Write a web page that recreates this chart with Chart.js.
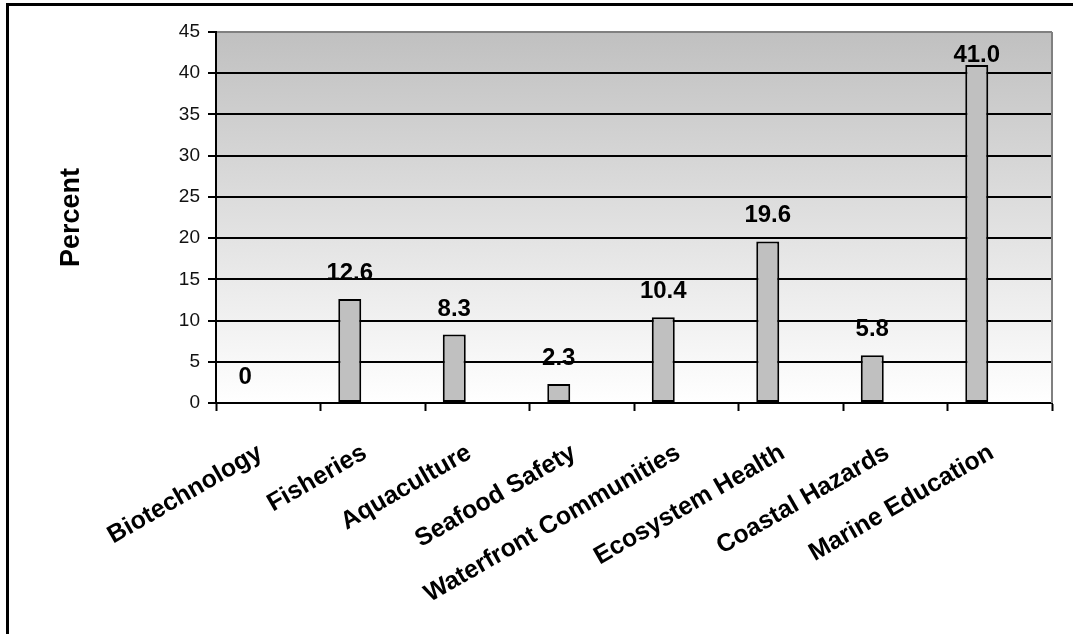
<!DOCTYPE html>
<html>
<head>
<meta charset="utf-8">
<script src="https://cdn.jsdelivr.net/npm/chart.js@4/dist/chart.umd.min.js"></script>
<style>
  html, body { margin: 0; padding: 0; background: #fff; }
  #wrap { position: relative; width: 1073px; height: 634px; overflow: hidden; }
  #frame {
    position: absolute; left: 6px; top: 3px; width: 1200px; height: 800px;
    border-left: 3px solid #000; border-top: 3px solid #000; pointer-events: none;
  }
  canvas { position: absolute; left: 0; top: 0; }
</style>
</head>
<body>
<div id="wrap">
  <canvas id="chart" width="1073" height="634"></canvas>
  <div id="frame"></div>
</div>
<script>
// Survey topics and the share of responses for each (percent)
const categories = [
  'Biotechnology', 'Fisheries', 'Aquaculture', 'Seafood Safety',
  'Waterfront Communities', 'Ecosystem Health', 'Coastal Hazards', 'Marine Education'
];
const percentValues = [0, 12.6, 8.3, 2.3, 10.4, 19.6, 5.8, 41.0];
const valueLabels = ['0', '12.6', '8.3', '2.3', '10.4', '19.6', '5.8', '41.0'];
// Two further series in the group hold no responses
const emptySeriesB = [null, null, null, null, null, null, null, null];
const emptySeriesC = [null, null, null, null, null, null, null, null];
const yTicks = [0, 5, 10, 15, 20, 25, 30, 35, 40, 45];

const FONT = '"Liberation Sans", Arial, Helvetica, sans-serif';

// Gradient plot background plus the grey frame on the right of the plot
const plotBackground = {
  id: 'plotBackground',
  beforeDraw(chart) {
    const { ctx, chartArea: a } = chart;
    ctx.save();
    const g = ctx.createLinearGradient(0, a.top, 0, a.bottom);
    g.addColorStop(0, '#c0c0c0');
    g.addColorStop(1, '#ffffff');
    ctx.fillStyle = g;
    ctx.fillRect(a.left, a.top, a.right - a.left, a.bottom - a.top);
    ctx.restore();
  },
  afterDraw(chart) {
    const { ctx, chartArea: a } = chart;
    ctx.save();
    ctx.strokeStyle = '#808080';
    ctx.lineWidth = 2;
    ctx.beginPath();
    ctx.moveTo(a.right, a.top);
    ctx.lineTo(a.right, a.bottom);
    ctx.stroke();
    ctx.restore();
  }
};

// Value labels above each bar of the first series
const barValueLabels = {
  id: 'barValueLabels',
  afterDatasetsDraw(chart) {
    const { ctx, chartArea: a } = chart;
    const meta = chart.getDatasetMeta(0);
    ctx.save();
    ctx.font = 'bold 24px ' + FONT;
    ctx.fillStyle = '#000';
    ctx.textAlign = 'center';
    ctx.textBaseline = 'alphabetic';
    meta.data.forEach((bar, i) => {
      // keep the label inside the plot area
      const y = Math.max(bar.y - 19, a.top + 30);
      ctx.fillText(valueLabels[i], bar.x, y);
    });
    ctx.restore();
  }
};

new Chart(document.getElementById('chart'), {
  type: 'bar',
  data: {
    labels: categories,
    datasets: [
      { label: 'Percent', data: percentValues, backgroundColor: '#c0c0c0',
        borderColor: '#000', borderWidth: 2, borderSkipped: false },
      { label: 'B', data: emptySeriesB, backgroundColor: '#c0c0c0' },
      { label: 'C', data: emptySeriesC, backgroundColor: '#c0c0c0' }
    ]
  },
  options: {
    responsive: false,
    animation: false,
    events: [],
    datasets: { bar: { categoryPercentage: 0.66, barPercentage: 1.0 } },
    layout: { padding: { top: 32, right: 21, left: 0, bottom: 0 } },
    plugins: { legend: { display: false }, tooltip: { enabled: false } },
    scales: {
      x: {
        grid: {
          offset: true, drawOnChartArea: false, drawTicks: true,
          tickLength: 8, tickWidth: 2, tickColor: '#000'
        },
        border: { display: true, color: '#000', width: 2 },
        ticks: {
          autoSkip: false, minRotation: 30, maxRotation: 30, padding: 27,
          labelOffset: -8,
          color: '#000', font: { family: FONT, size: 25, weight: 'bold' }
        },
        afterFit(scale) { scale.height = 231; }
      },
      y: {
        min: 0, max: 45,
        afterBuildTicks(scale) { scale.ticks = yTicks.map(v => ({ value: v })); },
        grid: {
          color: (c) => (c.tick && c.tick.value === 45 ? '#808080' : '#000'),
          lineWidth: 2, tickLength: 8, tickColor: '#000', tickWidth: 2
        },
        border: { display: true, color: '#000', width: 2 },
        ticks: { padding: 8, color: '#111', font: { family: FONT, size: 19 } },
        title: {
          display: true, text: 'Percent', color: '#000',
          font: { family: FONT, size: 27, weight: 'bold' },
          padding: { top: 55, bottom: 0 }
        },
        afterFit(scale) { scale.width = 216; }
      }
    }
  },
  plugins: [plotBackground, barValueLabels]
});
</script>
</body>
</html>
